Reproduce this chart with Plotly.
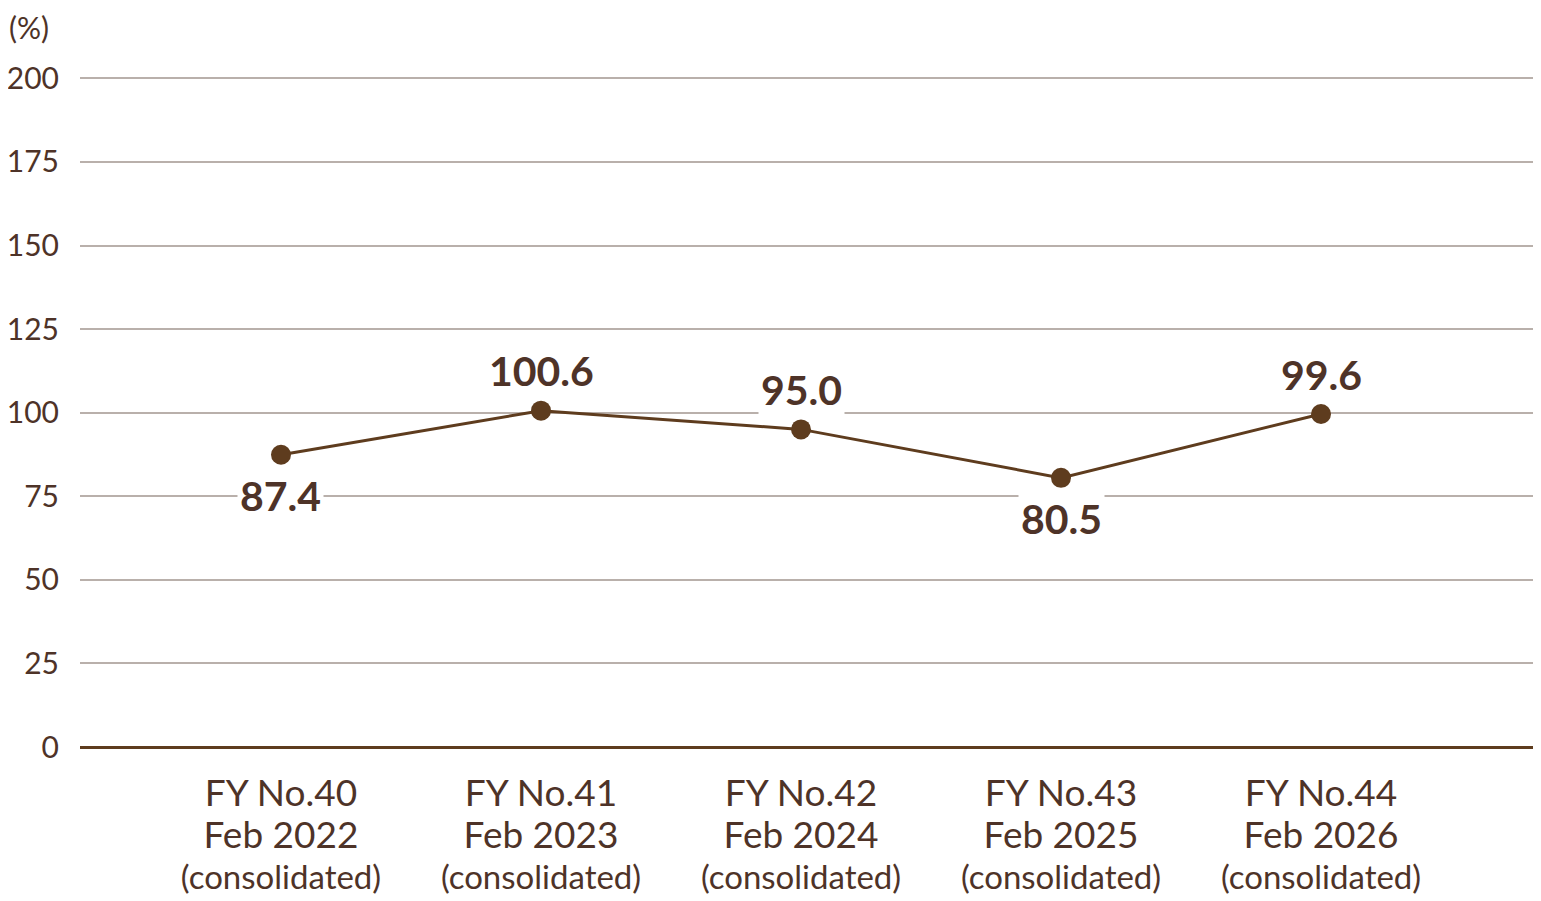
import plotly.graph_objects as go

# datos del grafico
periodos = ["FY No.40", "FY No.41", "FY No.42", "FY No.43", "FY No.44"]
fechas = ["Feb 2022", "Feb 2023", "Feb 2024", "Feb 2025", "Feb 2026"]
nota = "(consolidated)"
valores = [87.4, 100.6, 95.0, 80.5, 99.6]
etiqueta_abajo = [True, False, False, True, False]
y_ticks = [0, 25, 50, 75, 100, 125, 150, 175, 200]

color_linea = "#5e3c1e"
color_texto = "#4e3328"
fuente = "Lato, 'Noto Sans', sans-serif"

x = list(range(len(valores)))
ticktext = [f"<span style='font-size:37px'>{p}</span><br>"
            f"<span style='font-size:37px'>{f}</span><br>"
            f"<span style='font-size:33px'>{nota}</span>"
            for p, f in zip(periodos, fechas)]

fig = go.Figure()
fig.add_trace(go.Scatter(
    x=x, y=valores, mode="lines+markers",
    line=dict(color=color_linea, width=3),
    marker=dict(color=color_linea, size=20),
    hoverinfo="skip", showlegend=False,
))

for xi, v, abajo in zip(x, valores, etiqueta_abajo):
    fig.add_annotation(
        x=xi, y=v, text=f"<b>{v:.1f}</b>", showarrow=False,
        yshift=-41 if abajo else 40,
        bgcolor="white", borderpad=2,
        font=dict(family=fuente, size=41, color=color_texto),
    )

fig.add_annotation(
    xref="paper", yref="paper", x=0, y=1, xanchor="left", yanchor="top",
    xshift=-72, yshift=67, text="(%)", showarrow=False, borderpad=0,
    font=dict(family=fuente, size=30, color=color_texto),
)

# la pagina deja 8px de margen, se compensa en los margenes
fig.update_layout(
    width=1533, height=893,
    margin=dict(l=72, r=0, t=67, b=154),
    paper_bgcolor="white", plot_bgcolor="white",
    font=dict(family=fuente, color=color_texto),
)
fig.update_xaxes(
    range=[-0.773, 4.846], tickvals=x, ticktext=ticktext,
    showgrid=False, zeroline=False, showline=False,
    ticks="", ticklabelstandoff=26, automargin=False,
    tickfont=dict(family=fuente, size=32, color=color_texto),
)
fig.update_yaxes(
    range=[0, 201], tickvals=y_ticks,
    showgrid=True, gridcolor="#b9b0ab", gridwidth=2,
    zeroline=True, zerolinecolor=color_linea, zerolinewidth=2.5,
    showline=False, ticks="", ticklabelstandoff=20, automargin=False,
    tickfont=dict(family=fuente, size=30, color=color_texto),
)

fig.write_html("out.html")
